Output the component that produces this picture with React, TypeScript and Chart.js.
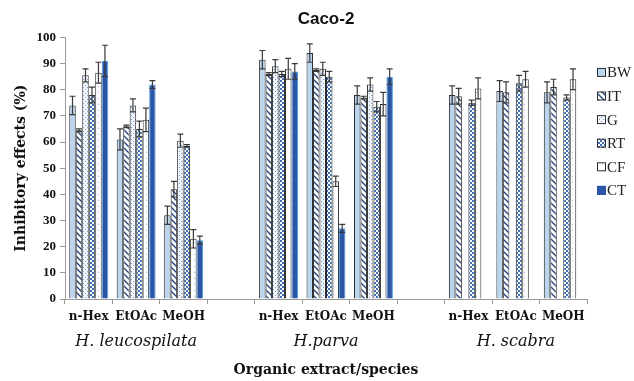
import React, { useEffect, useRef } from 'react';
import { Chart, registerables } from 'chart.js';

Chart.register(...registerables);

// ---- data ----
const categories = ['n-Hex', 'EtOAc', 'MeOH', '', 'n-Hex', 'EtOAc', 'MeOH', '', 'n-Hex', 'EtOAc', 'MeOH'];
const speciesLabels = ['', 'H. leucospilata', '', '', '', 'H.parva', '', '', '', 'H. scabra', ''];
const seriesNames = ['BW', 'IT', 'G', 'RT', 'CF', 'CT'];

const bwValues = [74, 61, 32, null, 91.5, 94, 78, null, 78, 79.5, 79];
const itValues = [64.5, 66, 42, null, 86, 87.5, 77, null, 77.5, 79, 81];
const gValues = [85.5, 74, 60.5, null, 89, 88, 82, null, null, null, null];
const rtValues = [78, 65, 58.5, null, 86, 85, 73.5, null, 75, 82.5, 77];
const cfValues = [86.5, 68.5, 23, null, 88, 45, 74.5, null, 80.5, 84, 84];
const ctValues = [91, 82, 22.5, null, 87, 27, 85, null, null, null, null];

const bwErrors = [3.5, 4, 3.5, null, 3.5, 3.5, 3.5, null, 3.5, 4, 4];
const itErrors = [0.5, 0.5, 3, null, 0.5, 0.5, 0.5, null, 3, 4, 3];
const gErrors = [2.5, 2.5, 2.5, null, 2.5, 2.5, 2.5, null, null, null, null];
const rtErrors = [3, 3, 0.5, null, 1, 2, 2, null, 1, 3, 1];
const cfErrors = [4, 4.5, 3.5, null, 4, 2, 4.5, null, 4, 3, 4];
const ctErrors = [6, 1.5, 1.5, null, 3, 1.5, 3, null, null, null, null];

const yTicks = [0, 10, 20, 30, 40, 50, 60, 70, 80, 90, 100];

const seriesValues = [bwValues, itValues, gValues, rtValues, cfValues, ctValues];
const seriesErrors = [bwErrors, itErrors, gErrors, rtErrors, cfErrors, ctErrors];

function makePattern(ctx: CanvasRenderingContext2D, kind: string): CanvasPattern | string {
  const c = document.createElement('canvas');
  const p = c.getContext('2d')!;
  if (kind === 'IT') {
    c.width = 6; c.height = 6;
    p.fillStyle = '#ffffff'; p.fillRect(0, 0, 6, 6);
    p.strokeStyle = '#1f3d78'; p.lineWidth = 1.3;
    p.beginPath();
    p.moveTo(-1, -1); p.lineTo(7, 7);
    p.moveTo(-4, 2); p.lineTo(4, 10);
    p.moveTo(2, -4); p.lineTo(10, 4);
    p.stroke();
  } else if (kind === 'G') {
    c.width = 4; c.height = 4;
    p.fillStyle = '#f4f8fd'; p.fillRect(0, 0, 4, 4);
    p.fillStyle = '#6f9bd3';
    p.fillRect(1, 1, 1, 1);
    p.fillRect(3, 3, 1, 1);
  } else if (kind === 'RT') {
    c.width = 4; c.height = 4;
    p.fillStyle = '#ffffff'; p.fillRect(0, 0, 4, 4);
    p.fillStyle = '#3f6fb8';
    p.fillRect(0, 0, 2, 2);
    p.fillRect(2, 2, 2, 2);
  } else {
    c.width = 6; c.height = 6;
    p.fillStyle = '#ffffff'; p.fillRect(0, 0, 6, 6);
    p.fillStyle = '#9cbce2';
    p.fillRect(2, 2, 1, 1);
  }
  return ctx.createPattern(c, 'repeat') || '#ffffff';
}

export default function App() {
  const ref = useRef<HTMLCanvasElement>(null);

  useEffect(() => {
    document.body.style.margin = '0';
    const canvas = ref.current!;
    const ctx = canvas.getContext('2d')!;

    const fills: (string | CanvasPattern)[] = [
      '#bcd5ee',
      makePattern(ctx, 'IT'),
      makePattern(ctx, 'G'),
      makePattern(ctx, 'RT'),
      makePattern(ctx, 'CF'),
      '#2c56a5',
    ];
    const borders = ['#2e2e2e', '#2e2e2e', '#2e2e2e', '#2e2e2e', '#2e2e2e', '#4f9ee0'];

    const errorBarPlugin = {
      id: 'errorBars',
      afterDatasetsDraw(chart: any) {
        const c = chart.ctx;
        const y = chart.scales.y;
        chart.data.datasets.forEach((ds: any, di: number) => {
          const meta = chart.getDatasetMeta(di);
          const errs = seriesErrors[di];
          meta.data.forEach((bar: any, i: number) => {
            const v = ds.data[i];
            const e = errs[i];
            if (v == null || e == null) return;
            const x = bar.x;
            const yTop = y.getPixelForValue(v + e);
            const yBot = y.getPixelForValue(v - e);
            c.save();
            c.strokeStyle = '#3a3a3a';
            c.lineWidth = 1.2;
            c.beginPath();
            c.moveTo(x, yTop); c.lineTo(x, yBot);
            c.moveTo(x - 3, yTop); c.lineTo(x + 3, yTop);
            c.moveTo(x - 3, yBot); c.lineTo(x + 3, yBot);
            c.stroke();
            c.restore();
          });
        });
      },
    };

    const sideLegendPlugin = {
      id: 'sideLegend',
      afterDraw(chart: any) {
        const c = chart.ctx;
        const area = chart.chartArea;
        const x0 = area.right + 10;
        c.save();
        seriesNames.forEach((name, i) => {
          const yc = area.top + 35 + i * 23.6;
          c.fillStyle = fills[i] as any;
          c.fillRect(x0, yc - 4.5, 9, 9);
          c.strokeStyle = i === 5 ? '#2c56a5' : '#2e2e2e';
          c.lineWidth = 1;
          c.strokeRect(x0 + 0.5, yc - 4, 8, 8);
          c.fillStyle = '#222222';
          c.font = '15px "Liberation Serif"';
          c.textBaseline = 'middle';
          c.textAlign = 'left';
          c.fillText(name, x0 + 10, yc + 1);
        });
        c.restore();
      },
    };

    const chart = new Chart(ctx, {
      type: 'bar',
      data: {
        labels: categories,
        datasets: seriesNames.map((name, i) => ({
          label: name,
          data: seriesValues[i] as any,
          backgroundColor: fills[i] as any,
          borderColor: borders[i],
          borderWidth: 1,
          barPercentage: 1,
          categoryPercentage: 0.82,
        })),
      },
      options: {
        responsive: true,
        maintainAspectRatio: false,
        animation: false,
        layout: { padding: { left: 13, right: 47, top: 0, bottom: 2.6 } },
        plugins: {
          legend: { display: false },
          tooltip: { enabled: false },
          title: {
            display: true,
            text: 'Caco-2',
            fullSize: false,
            color: '#111111',
            font: { family: '"Liberation Sans"', size: 17, weight: 'bold' },
            padding: { top: 9, bottom: 8 },
          },
        },
        scales: {
          x: {
            type: 'category',
            offset: true,
            weight: 0,
            grid: { display: true, drawOnChartArea: false, offset: true, tickLength: 5, color: '#9a9a9a' },
            border: { color: '#9a9a9a' },
            ticks: {
              color: '#111111',
              font: { family: '"DejaVu Serif"', size: 12, weight: 'bold' },
              maxRotation: 0,
              minRotation: 0,
              autoSkip: false,
              padding: 6,
            },
          },
          x2: {
            type: 'category',
            labels: speciesLabels,
            position: 'bottom',
            offset: true,
            weight: 1,
            grid: { display: false, drawTicks: false, tickLength: 0 },
            border: { display: false },
            ticks: {
              color: '#111111',
              font: { family: '"DejaVu Serif"', size: 16, style: 'italic' },
              maxRotation: 0,
              minRotation: 0,
              autoSkip: false,
              padding: 2,
            },
            title: {
              display: true,
              text: 'Organic extract/species',
              color: '#111111',
              font: { family: '"DejaVu Serif"', size: 14, weight: 'bold' },
              padding: { top: 8, bottom: 0 },
            },
          },
          y: {
            min: 0,
            max: 100,
            afterFit: (s: any) => { s.width = 52; },
            afterBuildTicks: (s: any) => { s.ticks = yTicks.map((v) => ({ value: v })); },
            grid: { display: true, drawOnChartArea: false, tickLength: 5, color: '#9a9a9a' },
            border: { color: '#9a9a9a' },
            ticks: {
              color: '#111111',
              font: { family: '"Liberation Serif"', size: 13, weight: 'bold' },
              padding: 4,
            },
            title: {
              display: true,
              text: 'Inhibitory effects (%)',
              color: '#111111',
              font: { family: '"DejaVu Serif"', size: 14, weight: 'bold' },
              padding: 0,
            },
          },
        },
      },
      plugins: [errorBarPlugin, sideLegendPlugin],
    });

    return () => chart.destroy();
  }, []);

  return (
    <div style={{ width: 634, height: 381, position: 'relative' }}>
      <canvas ref={ref} />
    </div>
  );
}
